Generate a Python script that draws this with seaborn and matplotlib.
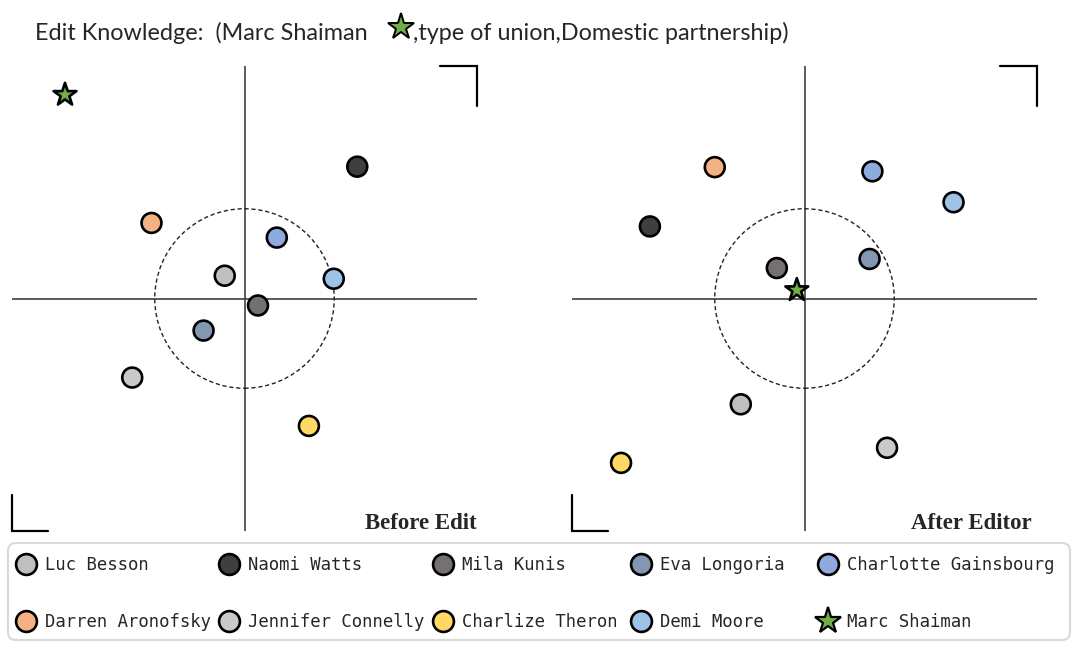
import matplotlib
matplotlib.use("Agg")
import matplotlib.pyplot as plt
import seaborn as sns
import pandas as pd
from matplotlib.lines import Line2D
from matplotlib.patches import Circle, FancyBboxPatch

# ---------------- data ----------------
names = ["Luc Besson", "Naomi Watts", "Mila Kunis", "Eva Longoria", "Charlotte Gainsbourg",
         "Darren Aronofsky", "Jennifer Connelly", "Charlize Theron", "Demi Moore", "Marc Shaiman"]
colors = ["#bfbfbf", "#3f3f3f", "#767171", "#8497b0", "#8faadc",
          "#f4b183", "#cacaca", "#ffd966", "#9dc3e6", "#70ad47"]
markers = ["o", "o", "o", "o", "o", "o", "o", "o", "o", "*"]

before_x = [-0.085, 0.485, 0.058, -0.176, 0.139, -0.400, -0.483, 0.277, 0.384, -0.772]
before_y = [0.098, 0.567, -0.030, -0.138, 0.262, 0.325, -0.340, -0.548, 0.085, 0.876]
after_x = [-0.274, -0.665, -0.119, 0.280, 0.292, -0.386, 0.355, -0.789, 0.641, -0.033]
after_y = [-0.455, 0.310, 0.131, 0.170, 0.547, 0.565, -0.642, -0.707, 0.414, 0.036]

panel_titles = ["Before Edit", "After Editor"]
title_left = "Edit Knowledge:  (Marc Shaiman"
title_right = ",type of union,Domestic partnership)"
circle_radius = 0.386

# ---------------- figure ----------------
sns.set_theme(style="white")
plt.rcParams["font.family"] = ["DejaVu Sans"]

W, H = 1080, 646
fig = plt.figure(figsize=(W / 100, H / 100), dpi=100)
fig.patch.set_facecolor("white")

palette = dict(zip(names, colors))
marker_map = dict(zip(names, markers))
size_map = {n: (300 if m == "*" else 205) for n, m in zip(names, markers)}

panels = [
    (pd.DataFrame({"name": names, "x": before_x, "y": before_y}), 12, panel_titles[0], 1.0),
    (pd.DataFrame({"name": names, "x": after_x, "y": after_y}), 572, panel_titles[1], 0.978),
]

for df, left_px, label, label_x in panels:
    ax = fig.add_axes([left_px / W, (H - 531) / H, 465 / W, 465 / H])
    ax.set_xlim(-1, 1)
    ax.set_ylim(-1, 1)
    ax.axis("off")
    ax.axhline(0, color="#404040", lw=1.2, zorder=0.5)
    ax.axvline(0, color="#404040", lw=1.2, zorder=0.5)
    ax.add_patch(Circle((0, 0), circle_radius, fill=False, ls=(0, (3, 2)),
                        lw=1.0, ec="#222222", zorder=0.6))
    # corner brackets
    ax.plot([0.84, 1.0, 1.0], [1.0, 1.0, 0.83], color="black", lw=1.6,
            solid_joinstyle="miter", clip_on=False)
    ax.plot([-1.0, -1.0, -0.845], [-0.845, -1.0, -1.0], color="black", lw=1.6,
            solid_joinstyle="miter", clip_on=False)
    sns.scatterplot(data=df, x="x", y="y", hue="name", style="name", size="name",
                    palette=palette, markers=marker_map, sizes=size_map,
                    hue_order=names, style_order=names, size_order=names,
                    edgecolor="black", linewidth=1.9, legend=False, ax=ax,
                    zorder=3, clip_on=False)
    ax.text(label_x, -0.99, label, ha="right", va="baseline",
            family="Liberation Serif", fontweight="bold", fontsize=16.5)

# ---------------- title ----------------
t1 = fig.text(35 / W, (H - 40) / H, title_left, fontsize=16.8, family="Lato",
              va="baseline", ha="left")
fig.canvas.draw()
r = fig.canvas.get_renderer()
bb = t1.get_window_extent(r)
star_x = bb.x1 + 33
fig.add_artist(Line2D([star_x / W], [(H - 27) / H], transform=fig.transFigure,
                      marker="*", markersize=20, markerfacecolor=colors[-1],
                      markeredgecolor="black", markeredgewidth=1.4, ls="none"))
fig.text((star_x + 12) / W, (H - 40) / H, title_right, fontsize=16.8, family="Lato",
         va="baseline", ha="left")

# ---------------- legend ----------------
box = FancyBboxPatch((8 / 100, (H - 640) / 100), (1070 - 8) / 100, 97 / 100,
                     boxstyle="round,pad=0,rounding_size=0.08",
                     transform=fig.dpi_scale_trans, fc="white", ec="#d9d9d9",
                     lw=1.5, zorder=0)
fig.add_artist(box)

col_marker_x = [26, 229, 443, 641, 828]
for c in range(5):
    handles, labels = [], []
    for idx in (c, c + 5):
        is_star = markers[idx] == "*"
        handles.append(Line2D([], [], ls="none", marker=markers[idx],
                              markersize=20 if is_star else 15,
                              markerfacecolor=colors[idx], markeredgecolor="black",
                              markeredgewidth=1.6 if is_star else 1.9))
        labels.append(names[idx])
    leg = fig.legend(handles, labels, loc="center left",
                     bbox_to_anchor=((col_marker_x[c] - 10.5) / W, (H - 593.5) / H),
                     frameon=False, ncol=1, borderpad=0, borderaxespad=0,
                     handlelength=1.2, handletextpad=0.5, labelspacing=2.3,
                     prop={"family": "DejaVu Sans Mono", "size": 12.4})

fig.savefig("out.png", dpi=100)
